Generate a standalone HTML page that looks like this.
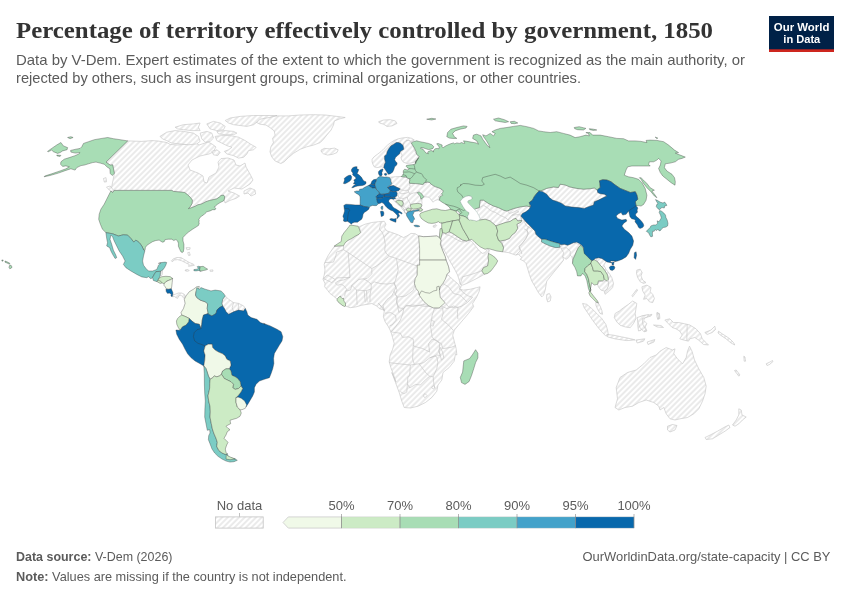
<!DOCTYPE html>
<html lang="en"><head><meta charset="utf-8"><title>Percentage of territory effectively controlled by government, 1850</title>
<style>
html,body{margin:0;padding:0;background:#fff;}
body{width:850px;height:600px;position:relative;overflow:hidden;font-family:"Liberation Sans",sans-serif;}
svg{position:absolute;left:0;top:0;}
.title{font-family:"Liberation Serif",serif;font-weight:bold;font-size:23.2px;fill:#333;}
.sub{font-size:14.6px;fill:#5b5b5b;}
.foot{font-size:13px;fill:#5b5b5b;}
.leg{font-size:13px;fill:#5b5b5b;}
.logo{font-size:11.6px;font-weight:bold;fill:#fff;text-anchor:middle;}
</style></head><body>
<svg width="850" height="600" viewBox="0 0 850 600">
<defs>
<pattern id="hatch" patternUnits="userSpaceOnUse" width="4" height="4" patternTransform="rotate(-45 2 2)">
<rect x="-1" y="-1" width="6" height="6" fill="#fff"/>
<path d="M -1,2 l 6,0" stroke="#ccc" stroke-width="0.8" fill="none"/>
</pattern>
</defs>
<rect width="850" height="600" fill="#fff"/>
<text class="title" x="16" y="38" textLength="697" lengthAdjust="spacingAndGlyphs">Percentage of territory effectively controlled by government, 1850</text>
<text class="sub" x="16" y="65" textLength="729" lengthAdjust="spacingAndGlyphs">Data by V-Dem. Expert estimates of the extent to which the government is recognized as the main authority, or</text>
<text class="sub" x="16" y="83" textLength="565" lengthAdjust="spacingAndGlyphs">rejected by others, such as insurgent groups, criminal organizations, or other countries.</text>
<g>
<rect x="769" y="16" width="65" height="36" fill="#002147"/>
<rect x="769" y="49.3" width="65" height="2.7" fill="#ce261e"/>
<text class="logo" x="801.6" y="30.7" textLength="55.6" lengthAdjust="spacingAndGlyphs">Our World</text>
<text class="logo" x="801.8" y="42.8" textLength="37" lengthAdjust="spacingAndGlyphs">in Data</text>
</g>
<g id="map">
<g fill="url(#hatch)" stroke="#c3c3c3" stroke-width="0.6" stroke-linejoin="round"><path d="M160.5,271.3 L162.6,270.0 L162.1,275.1 L160.5,275.9Z"/><path d="M172.6,294.7 L175.1,294.3 L178.4,293.0 L181.8,293.0 L184.3,294.3 L185.1,295.9 L183.9,298.4 L182.6,296.8 L180.9,295.1 L178.8,295.9 L177.6,298.4 L175.9,297.6 L174.3,296.4 L173.0,296.8Z"/><path d="M171.3,260.8 L173.4,258.8 L176.8,257.5 L180.9,257.5 L185.1,260.0 L189.3,262.5 L193.5,264.2 L194.3,265.4 L191.0,265.9 L188.5,266.3 L189.3,264.6 L185.9,262.9 L181.8,260.8 L177.6,259.6 L174.3,260.0 L172.2,261.7Z"/><path d="M185.1,270.0 L187.6,269.6 L189.3,270.5 L187.6,271.3 L185.5,271.0Z"/><path d="M209.9,270.2 L212.8,269.9 L213.0,271.2 L210.3,271.4Z"/><path d="M186.1,247.7 L190.2,247.7 L189.9,249.3 L186.9,249.8ZM187.7,252.7 L189.4,252.2 L190.2,255.2 L188.6,255.5Z"/><path d="M127.7,140.9 L142.0,141.4 L152.0,140.6 L158.0,141.0 L167.0,142.6 L170.0,144.4 L178.0,145.0 L188.0,144.0 L196.0,143.0 L199.0,145.0 L208.0,142.0 L212.0,144.0 L216.0,147.0 L213.0,152.0 L209.0,154.0 L200.0,156.0 L192.0,160.0 L188.0,165.0 L190.0,170.0 L198.0,173.0 L203.0,176.0 L204.0,182.0 L207.0,183.0 L209.0,177.0 L216.0,173.0 L219.0,167.0 L218.0,162.0 L221.0,158.6 L228.0,158.0 L234.0,160.0 L236.0,165.0 L240.0,166.0 L245.0,163.0 L246.0,167.0 L250.0,174.0 L253.0,180.0 L250.0,184.0 L242.0,189.0 L234.0,188.0 L228.0,191.0 L234.0,193.0 L239.6,196.0 L236.0,198.4 L230.0,200.4 L225.0,203.0 L224.3,200.1 L224.7,196.7 L223.5,195.1 L221.0,195.5 L219.3,197.1 L216.8,198.8 L213.4,199.6 L209.3,200.5 L205.9,201.7 L203.4,203.0 L200.9,204.2 L198.0,204.7 L195.1,206.3 L191.7,207.6 L188.4,208.7 L190.5,206.3 L192.1,203.4 L192.4,200.1 L190.5,197.6 L187.5,194.6 L184.6,192.5 L181.7,192.1 L180.2,192.0 L173.5,191.4 L171.9,190.4 L114.2,190.4 L112.6,192.5 L110.9,190.9 L114.4,173.4 L113.5,168.8 L112.7,164.8 L110.2,165.1 L106.0,162.1Z"/><path d="M106.5,187.1 L110.2,186.0 L113.5,190.2 L112.7,192.7 L109.4,190.2ZM103.5,178.5 L106.0,177.6 L106.5,181.8 L104.3,182.1Z"/><path d="M244.0,191.0 L250.0,188.0 L255.0,190.0 L255.6,194.0 L251.0,196.0 L248.0,193.0 L244.0,194.0Z"/><path d="M160.0,136.4 L166.7,132.2 L175.1,130.6 L183.4,131.4 L193.4,133.1 L198.4,136.4 L200.1,141.4 L196.8,143.9 L188.4,144.8 L180.1,143.9 L171.7,143.1 L166.7,140.6 L162.5,138.9ZM175.1,127.2 L183.4,124.7 L193.4,123.9 L200.1,123.0 L198.4,127.2 L200.1,130.6 L191.8,130.6 L183.4,129.7 L177.6,128.9ZM200.1,133.1 L206.8,131.4 L211.8,133.1 L213.5,138.1 L210.1,141.4 L205.1,142.2 L201.8,138.9ZM206.8,123.9 L213.5,121.4 L220.2,123.0 L225.2,126.4 L223.5,129.7 L216.8,130.6 L210.1,128.9ZM216.8,131.4 L225.2,130.6 L233.5,131.4 L236.9,133.1 L233.5,134.7 L225.2,134.7 L218.5,133.9ZM225.2,120.5 L230.2,118.0 L240.2,116.4 L253.6,115.5 L266.9,115.5 L277.0,115.5 L270.3,118.0 L263.6,121.4 L256.9,122.2 L253.6,124.7 L246.9,126.4 L240.2,125.5 L233.5,124.7 L228.5,123.0ZM215.2,136.4 L221.8,135.6 L230.2,135.6 L238.5,137.2 L245.2,140.6 L250.2,143.9 L256.1,147.3 L253.6,149.8 L248.6,150.6 L246.9,153.9 L243.6,157.3 L238.5,158.1 L233.5,155.6 L226.8,153.9 L224.3,151.4 L228.5,149.8 L231.9,147.3 L226.8,145.6 L221.8,143.1 L216.8,140.6ZM211.8,151.4 L216.8,149.8 L220.2,152.3 L217.7,155.6 L213.5,154.8Z"/><path d="M269.2,117.5 L276.7,115.9 L288.4,115.9 L300.1,115.0 L313.5,114.7 L325.2,115.0 L336.9,116.4 L345.2,117.5 L340.2,118.7 L334.4,120.9 L333.5,125.0 L331.0,130.1 L326.8,135.1 L323.5,139.2 L320.2,142.6 L313.5,145.1 L306.8,146.8 L300.1,149.3 L293.4,153.4 L288.4,157.6 L284.2,161.8 L280.9,163.5 L275.1,161.0 L271.7,156.8 L270.0,151.8 L270.9,146.8 L273.4,142.6 L272.6,138.4 L275.1,135.1 L274.2,130.9 L270.0,127.6 L265.9,125.0 L260.0,124.2 L256.7,122.5 L260.0,119.2Z"/><path d="M321.0,150.1 L324.3,148.4 L329.4,148.8 L334.4,148.1 L338.2,149.8 L336.9,152.6 L332.7,154.3 L327.7,155.1 L323.5,153.8 L321.5,152.1Z"/><path d="M378.6,121.7 L383.6,120.0 L390.3,119.7 L395.3,120.9 L397.0,123.4 L392.0,125.9 L387.0,126.4 L383.6,124.2 L379.5,123.0Z"/><path d="M225.2,295.9 L228.6,299.3 L233.6,302.6 L238.6,303.4 L243.6,305.9 L245.3,308.4 L243.6,311.0 L238.6,310.1 L233.6,311.8 L228.6,314.3 L226.1,311.8 L224.4,308.4 L222.7,305.9 L221.9,303.4 L222.7,299.3Z"/><path d="M372.1,159.2 L374.2,156.7 L377.5,154.2 L380.9,151.7 L384.2,148.4 L387.6,145.0 L390.9,142.5 L394.2,140.4 L398.4,138.8 L402.6,137.9 L407.6,137.4 L411.8,138.4 L414.3,140.0 L411.8,141.7 L410.5,141.3 L408.4,140.4 L405.9,140.9 L404.3,142.5 L403.0,145.5 L400.9,143.4 L398.4,142.5 L396.3,142.5 L393.8,144.2 L390.9,145.9 L388.8,148.8 L387.1,151.7 L386.7,154.2 L384.6,155.9 L384.6,159.2 L385.5,162.2 L384.2,165.1 L383.8,167.6 L381.7,166.8 L379.2,167.2 L376.7,167.6 L374.2,166.8 L372.9,164.3 L372.1,161.7Z"/><path d="M403.0,145.5 L404.3,142.5 L405.9,140.9 L408.4,140.4 L410.5,141.3 L411.4,143.4 L413.0,145.9 L414.3,149.2 L415.1,151.7 L416.8,154.2 L418.5,156.7 L418.9,158.4 L416.8,160.1 L414.3,162.2 L410.9,163.0 L406.8,163.4 L403.4,162.2 L401.8,160.1 L400.9,157.6 L402.2,155.1 L400.9,153.0 L400.1,151.7 L401.8,150.5 L403.8,149.2Z"/><path d="M389.3,177.4 L395.5,176.7 L401.1,176.5 L403.2,176.9 L405.8,177.1 L406.7,177.4 L407.9,178.3 L409.4,178.7 L409.9,180.1 L409.4,181.5 L409.6,183.3 L412.0,183.4 L415.5,183.6 L419.1,183.9 L422.6,184.5 L423.8,183.9 L424.1,182.7 L425.8,182.4 L427.3,182.1 L429.6,182.4 L430.8,183.9 L433.2,185.6 L435.5,186.8 L438.5,187.7 L441.8,189.4 L443.2,190.9 L443.8,193.0 L442.1,193.4 L440.4,194.7 L440.0,195.9 L438.3,196.8 L440.0,197.6 L439.2,200.1 L437.5,199.7 L435.0,200.5 L432.9,202.2 L431.7,200.5 L430.4,198.8 L428.8,197.2 L425.8,196.8 L423.3,197.2 L422.5,198.8 L421.7,200.9 L422.1,203.0 L421.8,203.8 L421.8,205.4 L420.9,207.5 L422.6,209.6 L421.8,210.9 L419.7,211.3 L418.8,210.9 L418.4,209.6 L416.7,210.0 L413.4,210.5 L410.1,211.3 L407.6,212.1 L406.3,213.8 L404.6,213.0 L404.2,210.0 L403.0,207.5 L400.0,205.9 L396.7,203.4 L394.2,200.8 L392.5,198.3 L395.6,198.4 L394.7,197.2 L396.8,195.9 L397.2,193.0 L396.0,191.3 L398.9,190.5 L400.2,188.8 L396.8,187.2 L393.5,185.5 L390.1,186.1 L388.5,186.3 L390.6,185.1 L391.8,183.8 L391.0,181.7 L390.6,179.2Z"/><path d="M540.9,190.9 L546.7,188.4 L553.4,187.0 L558.4,187.5 L560.1,184.2 L565.1,185.0 L570.1,187.0 L576.8,188.4 L583.5,189.2 L590.2,188.7 L594.3,188.0 L597.2,190.0 L597.7,192.5 L600.2,193.7 L604.4,194.2 L606.9,195.9 L603.5,197.6 L598.5,200.1 L594.3,201.7 L593.5,205.1 L588.5,206.7 L584.3,208.4 L578.5,207.6 L571.8,207.1 L565.1,205.9 L561.8,203.4 L557.6,201.7 L552.6,200.1 L549.2,197.6 L546.7,194.2 L542.6,191.7Z"/><path d="M595.9,259.2 L599.3,257.5 L603.4,259.2 L605.9,261.7 L603.8,265.1 L605.9,269.2 L609.3,273.4 L611.8,277.6 L613.5,283.4 L612.6,287.6 L609.3,291.0 L605.1,294.3 L604.3,291.8 L606.8,289.3 L608.4,285.1 L608.4,279.3 L607.6,275.1 L605.1,270.9 L602.6,267.6 L600.1,265.1 L597.6,261.7Z"/><path d="M598.4,281.8 L602.6,280.9 L606.8,280.9 L608.4,282.6 L608.4,285.9 L606.8,289.3 L604.3,291.0 L600.9,290.1 L598.4,286.8 L597.6,284.3Z"/><path d="M598.4,303.1 L600.1,306.0 L601.8,310.2 L602.6,314.3 L600.1,313.5 L597.6,309.3 L595.9,305.2 L595.9,302.1Z"/><path d="M582.6,303.5 L586.7,304.3 L591.7,308.5 L596.8,313.5 L601.8,318.5 L605.9,324.4 L607.6,330.2 L608.4,335.2 L605.9,336.1 L601.8,331.9 L597.6,326.9 L592.6,320.2 L587.6,312.7 L584.2,307.7Z"/><path d="M615.1,313.5 L619.3,311.0 L623.5,307.7 L628.5,304.3 L632.7,301.0 L636.8,303.5 L636.0,308.5 L635.2,313.5 L636.0,318.5 L633.5,323.5 L630.2,327.7 L625.2,326.9 L620.1,325.2 L616.8,321.9 L614.3,317.7Z"/><path d="M606.8,334.4 L613.5,335.2 L621.8,336.9 L630.2,338.6 L635.2,339.9 L626.8,340.6 L615.1,338.9 L607.6,336.9Z"/><path d="M638.5,318.5 L641.9,316.0 L648.5,315.2 L651.9,314.3 L651.0,316.0 L645.2,317.7 L643.5,320.2 L646.9,323.5 L645.2,326.9 L646.9,331.0 L644.4,331.9 L642.7,326.9 L641.0,330.2 L638.5,331.0 L637.7,325.2Z"/><path d="M636.8,270.1 L640.2,269.2 L642.2,272.6 L641.0,275.9 L642.7,280.1 L646.0,282.6 L643.5,283.4 L640.2,281.8 L637.7,277.6 L636.5,273.4ZM641.9,286.8 L646.9,285.1 L651.0,287.6 L650.2,291.8 L652.7,294.3 L654.4,298.5 L652.7,302.6 L649.4,301.8 L646.9,298.5 L643.5,299.3 L645.2,295.1 L642.7,291.0ZM631.8,296.0 L634.3,292.6 L636.8,289.3 L637.7,290.1 L635.2,293.5 L632.7,296.8ZM656.9,312.7 L659.4,313.5 L659.9,318.5 L657.7,319.4Z"/><path d="M664.8,320.0 L669.8,318.8 L673.5,322.5 L678.5,322.5 L684.8,323.8 L689.8,325.0 L696.0,328.8 L700.5,333.8 L702.2,338.8 L706.0,342.5 L708.5,345.0 L703.5,344.5 L698.5,340.0 L694.8,337.5 L689.8,338.8 L688.5,341.2 L683.5,340.0 L679.8,338.8 L682.2,335.0 L679.8,331.2 L676.0,328.8 L672.2,327.5 L668.5,323.8ZM704.8,332.5 L711.0,330.0 L714.8,326.2 L715.5,329.5 L712.2,332.5 L707.2,334.5ZM718.5,331.2 L722.2,333.8 L726.0,336.2 L729.8,338.8 L733.5,342.5 L734.8,345.0 L731.0,343.0 L726.0,338.8 L721.0,335.5 L718.0,333.0ZM637.2,317.5 L643.5,315.5 L648.5,314.5 L647.2,317.0 L642.2,318.8 L643.0,325.0 L646.0,330.0 L643.5,331.2 L639.8,327.5 L638.0,322.5ZM657.2,312.5 L659.0,313.8 L658.5,318.8 L657.0,317.5ZM653.5,325.0 L661.0,325.5 L663.5,327.5 L657.2,327.0ZM636.0,340.0 L644.8,338.8 L643.5,341.2 L637.2,343.0ZM647.2,342.0 L654.8,339.5 L654.0,342.0 L648.0,344.5Z"/><path d="M615.0,407.5 L617.5,398.8 L616.2,387.5 L620.0,377.5 L627.5,372.5 L636.2,370.0 L643.8,363.8 L650.0,357.5 L656.2,355.0 L660.0,351.2 L666.2,347.5 L672.5,350.0 L675.0,348.8 L673.8,353.8 L677.5,358.8 L682.5,363.8 L686.2,357.5 L687.5,351.2 L689.5,346.2 L692.0,351.2 L694.5,360.0 L698.8,368.8 L703.8,377.5 L706.2,386.2 L705.0,393.8 L702.5,401.2 L698.8,408.8 L693.8,413.8 L687.5,417.5 L680.0,418.8 L675.0,420.0 L670.0,418.8 L666.2,413.8 L663.8,407.5 L660.0,410.0 L658.8,406.2 L653.8,402.5 L646.2,400.0 L638.8,402.5 L632.5,406.2 L625.0,407.5 L618.8,410.0ZM667.5,426.2 L672.5,424.5 L677.0,425.5 L675.0,430.0 L670.0,432.0 L667.5,430.0Z"/><path d="M738.8,408.8 L741.2,410.0 L742.0,415.0 L746.2,417.0 L742.5,420.0 L738.8,423.8 L735.0,426.2 L732.5,425.0 L736.2,420.0 L738.8,415.0ZM728.8,425.0 L730.0,427.5 L725.0,431.2 L718.8,435.0 L712.5,438.8 L706.2,439.5 L705.0,437.5 L711.2,434.5 L717.5,431.2 L723.8,427.5ZM734.5,370.5 L736.2,370.0 L740.0,375.0 L738.8,376.2ZM743.8,356.2 L745.0,357.0 L745.5,361.2 L744.2,361.2ZM766.2,363.8 L770.0,362.0 L772.5,360.5 L773.0,361.5 L769.5,364.5 L767.0,365.5Z"/><path d="M440.9,235.8 L440.4,232.5 L439.2,241.0 L440.4,240.1 L441.7,235.1 L442.5,232.6 L445.9,233.4 L449.2,231.8 L452.6,233.4 L457.6,236.8 L462.6,240.1 L466.8,241.0 L469.3,240.1 L470.1,240.0 L472.6,242.5 L476.0,246.7 L479.3,250.9 L482.6,253.4 L485.1,252.6 L487.6,249.2 L489.3,250.0 L488.5,253.4 L488.1,256.7 L488.5,260.9 L487.6,265.9 L483.5,267.6 L481.8,270.9 L484.3,274.3 L478.5,277.6 L471.8,281.0 L466.8,283.5 L462.6,285.1 L460.1,284.3 L459.2,280.1 L457.6,275.1 L455.1,270.1 L451.7,264.2 L448.4,258.4 L445.0,251.7 L441.7,245.9 L440.0,240.0Z"/><path d="M471.5,211.1 L476.0,208.6 L479.3,207.7 L480.2,200.2 L483.5,200.2 L488.5,203.5 L493.5,206.0 L498.5,207.7 L503.6,210.2 L506.9,211.1 L513.6,208.6 L520.3,206.9 L526.9,206.0 L530.3,206.9 L529.2,202.6 L530.9,205.9 L529.2,209.2 L525.8,211.8 L522.5,213.4 L520.8,215.9 L521.9,220.4 L517.7,220.9 L516.0,218.4 L513.5,219.2 L510.2,221.4 L505.2,222.6 L500.2,224.3 L496.0,225.9 L490.1,220.9 L485.1,219.2 L479.3,220.1 L478.8,220.3 L480.0,218.5 L478.8,215.6 L477.1,212.6 L475.3,210.3 L473.5,208.5Z"/><path d="M502.6,251.8 L508.4,252.6 L513.4,254.3 L515.9,255.1 L518.4,254.3 L521.8,257.6 L520.1,259.3 L523.5,260.9 L526.0,263.4 L527.6,268.5 L529.3,274.3 L531.8,281.0 L535.2,286.8 L538.5,292.7 L541.8,296.9 L543.5,295.2 L545.2,290.2 L546.0,285.2 L546.8,281.0 L550.2,276.8 L553.5,272.6 L556.9,268.5 L561.0,263.4 L563.6,260.1 L562.7,256.8 L566.1,259.3 L568.6,257.6 L570.2,255.1 L571.9,256.8 L572.7,260.1 L572.5,263.4 L573.0,259.2 L575.0,255.0 L576.7,250.9 L578.4,247.5 L580.9,245.0 L573.5,242.7 L570.1,244.3 L567.6,245.2 L564.3,244.3 L560.9,244.8 L559.3,243.5 L560.1,247.2 L555.9,247.7 L550.1,246.0 L545.1,243.8 L541.4,241.8 L541.7,239.3 L538.4,236.8 L535.9,234.3 L535.0,231.0 L532.5,228.5 L529.2,225.1 L525.8,221.8 L523.3,218.8 L520.8,215.9 L521.9,220.4 L521.0,222.1 L516.9,224.3 L517.7,228.4 L515.2,232.6 L511.9,235.1 L509.4,238.5 L505.2,240.1 L500.2,241.0 L498.5,240.1 L501.8,243.5 L503.5,247.6 L502.7,251.8ZM546.8,294.4 L549.4,293.5 L551.0,296.9 L550.2,301.0 L547.7,301.9 L546.5,298.5Z"/><path d="M334.2,246.4 L331.7,250.1 L328.4,255.1 L325.8,260.1 L324.2,264.3 L325.0,270.1 L324.2,275.1 L323.0,279.3 L325.0,283.5 L324.7,286.8 L327.5,290.2 L330.0,293.5 L333.4,296.0 L337.5,299.4 L339.2,302.7 L342.6,305.2 L345.4,306.0 L350.1,307.7 L355.9,306.9 L361.8,305.2 L366.8,304.4 L371.8,303.5 L376.8,306.0 L379.3,308.6 L384.3,310.2 L378.4,303.3 L382.6,307.5 L384.2,311.7 L383.4,316.7 L385.1,321.7 L388.4,326.7 L390.9,331.7 L392.6,337.6 L394.2,343.4 L392.6,349.3 L390.1,355.1 L389.2,361.8 L390.9,367.7 L393.4,374.3 L395.9,381.9 L391.8,372.5 L395.5,382.5 L399.2,392.5 L401.8,401.2 L404.2,407.5 L410.5,408.0 L418.0,406.2 L425.5,402.5 L431.8,397.5 L436.8,391.2 L438.0,385.0 L441.8,380.0 L443.0,372.5 L449.2,367.5 L454.2,361.2 L455.5,353.8 L456.9,355.1 L456.1,348.4 L454.4,341.8 L452.7,335.1 L454.4,330.1 L458.6,325.1 L463.6,319.2 L468.6,313.4 L473.6,306.7 L472.6,303.5 L476.8,296.8 L479.3,291.0 L480.1,286.8 L476.8,287.6 L470.1,289.3 L463.4,290.1 L459.2,289.3 L460.1,286.8 L457.6,283.5 L453.4,280.1 L450.1,276.8 L447.0,274.3 L449.5,271.8 L448.6,266.8 L446.1,260.1 L445.3,256.8 L442.8,250.9 L440.3,244.2 L441.1,240.1 L439.4,237.6 L436.9,235.9 L430.3,236.4 L423.6,236.7 L418.6,235.9 L415.2,233.7 L411.0,233.4 L406.9,235.9 L403.5,237.6 L398.5,235.0 L391.8,232.5 L386.8,230.9 L384.3,227.5 L386.0,224.2 L384.3,221.3 L378.5,221.7 L371.8,222.5 L365.1,224.2 L359.3,226.7 L360.1,230.0 L359.3,233.4 L355.1,235.9 L350.9,238.4 L346.7,240.9 L343.4,243.4 L339.2,245.9Z"/><path d="M425.0,393.5 L427.1,395.6 L425.0,397.7 L422.9,395.6ZM433.2,385.6 L435.0,387.4 L433.2,389.1 L431.6,387.4Z"/><path d="M433.0,225.9 L436.0,224.7 L436.8,225.5 L435.1,227.2 L433.5,227.2Z"/></g><g fill="none" stroke="#c3c3c3" stroke-width="0.6" stroke-linejoin="round"><path d="M233.6,302.6 L232.2,307.6 L233.6,311.8"/><path d="M238.6,303.4 L238.3,307.6 L238.6,310.1"/><path d="M687.2,324.5 L686.8,340.5"/><path d="M460.1,284.3 L462.6,276.8 L471.8,274.3 L481.8,270.9"/><path d="M445.0,234.2 L450.1,235.8 L455.9,239.2 L460.9,241.7 L466.8,241.7"/><path d="M515.9,255.1 L520.1,250.9 L519.3,246.7 L522.6,242.6 L526.0,238.4 L528.5,233.4 L526.8,230.0 L528.5,226.7"/><path d="M562.7,256.8 L563.6,252.6 L561.0,248.4 L566.1,247.6 L570.2,250.9 L570.2,255.1"/><path d="M343.5,245.8 L343.5,249.7 L336.5,252.1 L335.9,255.6 L333.5,262.1 L324.7,262.6"/><path d="M343.5,249.7 L348.2,252.6 L350.0,277.4 L336.5,277.9 L335.3,279.7 L331.8,277.4 L327.1,275.0 L323.5,278.5"/><path d="M348.2,252.6 L371.8,268.5 L377.1,265.6 L389.4,256.2"/><path d="M381.2,222.1 L379.4,229.1 L382.4,232.6 L384.1,237.4"/><path d="M389.4,232.1 L386.5,234.4 L384.1,237.4"/><path d="M384.1,237.4 L385.3,244.4 L384.7,250.3 L386.5,253.8 L389.4,256.2"/><path d="M389.4,256.2 L396.5,258.5 L417.6,266.2 L418.8,266.2"/><path d="M396.5,258.5 L398.2,270.3 L395.3,280.9 L394.1,283.2"/><path d="M371.8,268.5 L371.8,273.8 L367.1,278.5 L363.5,279.1"/><path d="M323.5,278.5 L327.1,280.3 L331.8,282.6 L335.3,279.7"/><path d="M363.5,278.8 L358.8,279.4 L355.3,282.4 L351.8,285.3 L350.6,290.0 L345.3,291.2 L344.7,296.5"/><path d="M363.5,278.8 L367.6,281.2 L371.2,284.1 L374.1,281.8 L380.0,283.5 L387.1,284.1 L394.1,282.9"/><path d="M371.2,284.1 L371.2,288.8 L370.0,294.7 L370.0,301.8"/><path d="M351.8,285.3 L356.5,290.0 L364.1,290.6 L366.5,290.6 L371.2,288.8"/><path d="M366.5,290.6 L367.1,301.8"/><path d="M364.1,290.6 L365.3,302.4"/><path d="M356.5,290.0 L357.1,304.7"/><path d="M394.1,282.9 L395.9,287.6 L391.8,295.9 L387.1,299.4 L382.9,305.3 L384.7,311.2"/><path d="M394.1,282.9 L397.1,290.0 L395.3,294.7 L397.6,297.1 L405.9,295.9 L412.9,290.6 L415.3,285.3"/><path d="M415.3,285.3 L414.1,281.8 L417.1,277.6 L417.6,265.9"/><path d="M397.6,297.1 L396.5,301.8 L398.2,308.8 L398.8,312.4"/><path d="M398.8,312.4 L403.5,308.8 L405.9,305.3 L412.9,306.5 L420.0,305.3 L424.7,306.5 L430.6,306.5"/><path d="M337.6,285.3 L341.2,284.1 L344.7,286.5 L347.1,290.0 L345.3,291.2"/><path d="M337.6,285.3 L335.3,282.9 L338.8,280.8 L343.5,280.0 L350.0,277.3"/><path d="M441.1,306.0 L447.0,308.6 L453.6,306.0 L458.7,307.7"/><path d="M442.8,283.5 L448.6,286.8 L453.6,293.5 L460.3,295.2 L467.0,301.9"/><path d="M445.0,302.6 L448.5,306.8 L455.6,307.9 L461.5,306.2 L467.4,302.6 L472.6,297.4 L467.4,295.6 L462.6,292.1 L460.3,288.5 L461.5,285.0"/><path d="M457.9,307.9 L457.4,314.4 L457.9,319.1"/><path d="M433.2,307.9 L434.4,308.5 L442.6,307.9 L443.2,313.2 L441.5,319.1 L442.6,320.3 L448.5,325.0 L453.2,330.3"/><path d="M434.4,308.5 L432.1,315.6 L431.5,320.3 L430.3,325.0 L431.5,332.1 L432.1,336.8 L434.4,339.7 L439.7,342.6 L441.5,343.8 L442.6,348.5 L443.8,348.5 L450.9,347.4 L455.6,345.6"/><path d="M393.8,290.9 L396.8,296.8 L396.8,302.6 L399.1,307.9 L403.8,308.5 L406.2,306.2 L412.1,305.0 L417.9,305.6 L422.6,304.4 L428.5,305.6"/><path d="M403.8,308.5 L402.6,314.4 L400.3,320.3 L397.9,323.8 L392.1,330.9 L390.3,332.1"/><path d="M385.0,313.2 L390.9,312.6 L395.6,315.6 L396.2,320.3 L392.1,325.0 L389.7,325.6"/><path d="M392.1,332.1 L400.3,333.2 L402.6,337.4 L408.5,336.8 L413.2,339.1 L413.8,346.2 L422.6,348.5 L429.7,352.1"/><path d="M429.7,352.1 L428.5,343.8 L432.1,339.1 L436.8,340.3 L439.7,343.8 L439.1,350.9 L440.3,355.0"/><path d="M431.5,320.3 L434.4,321.5 L433.2,326.2 L431.5,325.6"/><path d="M389.1,362.6 L399.1,363.8 L410.3,365.0 L414.4,364.4 L419.1,363.8"/><path d="M410.3,365.0 L409.7,375.6 L407.9,376.8 L407.4,383.8 L406.8,392.1 L403.8,393.8 L400.3,391.5"/><path d="M407.4,383.8 L409.7,387.9 L415.6,384.4 L420.3,385.0 L426.2,379.1 L429.7,376.2 L433.2,376.8"/><path d="M419.1,363.8 L422.6,368.5 L426.2,373.2 L429.7,376.2"/><path d="M419.1,363.8 L423.8,362.6 L429.7,357.9 L434.4,356.2 L436.8,356.8 L437.9,362.6 L436.8,368.5 L433.2,376.8 L433.8,383.8 L435.0,388.5"/><path d="M413.2,345.0 L412.6,359.1 L414.4,364.4"/><path d="M429.7,357.9 L436.8,355.0 L440.3,355.6"/><path d="M440.3,347.4 L442.6,352.1 L443.8,357.9 L441.5,360.3 L440.3,355.6 L438.5,350.9 L440.3,347.4"/><path d="M479.4,207.6 L483.5,205.3 L487.1,207.6 L490.6,210.6 L495.3,212.4 L500.0,215.3 L505.3,217.6 L508.2,220.0"/><path d="M508.2,211.2 L509.4,213.5 L512.9,212.4 L516.5,210.6 L518.8,211.8 L515.3,213.5 L511.8,215.3 L509.4,218.2 L508.2,220.0"/><path d="M511.8,215.3 L516.5,214.7 L520.6,214.7"/><path d="M524.1,228.8 L527.1,230.6 L527.6,234.7 L525.3,239.4 L522.4,243.5 L518.8,246.5 L521.2,251.2 L521.8,254.1"/><path d="M524.1,220.6 L525.9,225.3 L529.4,227.6 L531.8,228.8"/><path d="M501.2,241.2 L503.5,246.5 L501.8,251.2"/><path d="M409.6,183.4 L410.1,186.7 L408.8,188.0 L409.6,189.2 L408.0,190.1 L404.2,190.5 L400.0,189.6"/><path d="M408.0,190.1 L408.8,192.1 L405.5,193.4 L400.9,193.8 L399.2,191.7"/><path d="M408.8,192.1 L410.1,194.2 L407.5,197.2 L403.4,198.4 L399.2,198.0 L397.9,195.1"/><path d="M410.1,194.2 L413.4,193.0 L417.2,192.6"/><path d="M407.5,197.2 L407.5,199.2 L409.2,201.7 L410.5,204.3"/><path d="M403.4,198.4 L402.5,200.9 L400.0,200.1 L397.5,198.8 L395.0,199.2"/><path d="M402.5,200.9 L403.8,203.0 L403.4,205.9 L406.3,208.8"/><path d="M398.4,204.7 L400.9,206.8 L403.4,205.9"/><path d="M400.9,206.8 L402.5,209.3 L404.6,211.8 L406.7,213.4"/><path d="M406.3,209.3 L404.2,209.7 L404.6,211.8"/></g><g stroke="#333" stroke-opacity="0.55" stroke-width="0.65" stroke-linejoin="round"><path fill="#a8ddb5" d="M81.8,146.7 L83.5,143.4 L88.5,141.7 L94.3,139.7 L101.8,138.4 L107.7,137.5 L113.5,138.7 L120.2,139.7 L127.7,140.9 L106.0,162.1 L110.2,165.1 L112.7,164.8 L113.5,168.8 L114.4,173.4 L112.2,175.5 L110.2,173.4 L109.9,168.8 L107.2,167.1 L104.3,164.3 L100.2,163.1 L96.0,162.1 L92.6,162.6 L88.5,163.8 L84.3,165.1 L81.0,165.6 L76.8,167.6 L75.1,170.1 L70.9,168.8 L65.9,170.4 L58.4,173.1 L50.0,175.5 L44.2,176.8 L44.7,176.0 L51.7,173.8 L60.1,170.9 L65.9,168.8 L69.3,166.8 L65.9,165.9 L62.6,166.4 L60.6,164.3 L60.9,161.8 L64.2,159.2 L69.3,157.6 L74.3,155.9 L78.4,154.2 L80.1,152.6 L75.1,153.1 L70.9,152.1 L70.6,150.4 L75.9,149.2 L80.1,148.4ZM47.5,151.4 L51.7,148.4 L56.7,145.0 L60.9,142.5 L63.4,145.9 L67.6,147.6 L67.1,149.7 L62.6,150.9 L60.1,152.6 L57.6,153.4 L53.4,151.7 L51.7,150.1 L48.4,151.7ZM67.6,137.5 L70.9,136.7 L73.1,137.5 L70.1,138.7ZM56.7,155.1 L60.9,155.4 L60.1,156.4 L57.1,155.9ZM110.9,190.9 L112.6,192.5 L114.2,190.4 L171.9,190.4 L173.5,191.4 L180.2,192.0 L181.7,192.1 L184.6,192.5 L187.5,194.6 L190.5,197.6 L192.4,200.1 L192.1,203.4 L190.5,206.3 L188.4,208.7 L191.7,207.6 L195.1,206.3 L198.0,204.7 L200.9,204.2 L203.4,203.0 L205.9,201.7 L209.3,200.5 L213.4,199.6 L216.8,198.8 L219.3,197.1 L221.0,195.5 L223.5,195.1 L224.7,196.7 L224.3,199.2 L223.5,200.9 L220.1,202.6 L217.6,204.2 L215.5,205.9 L214.3,207.2 L215.9,208.4 L215.1,209.7 L212.6,209.7 L210.1,210.9 L206.8,211.8 L205.1,213.4 L203.4,215.1 L201.7,215.9 L200.1,217.6 L198.8,219.3 L199.2,220.5 L198.8,222.6 L199.3,222.9 L198.5,225.4 L196.0,227.1 L192.6,229.2 L188.5,232.1 L185.1,235.1 L183.0,237.6 L183.0,240.9 L183.9,244.2 L183.9,248.4 L183.3,251.8 L182.2,252.6 L180.9,251.8 L179.7,249.3 L178.4,246.3 L178.4,243.4 L177.6,240.9 L175.9,239.6 L173.8,240.5 L171.8,239.2 L168.4,239.2 L165.1,239.6 L164.2,241.7 L162.6,242.2 L160.9,241.3 L159.2,240.1 L155.9,240.5 L152.5,241.7 L149.2,243.8 L146.7,245.5 L145.4,247.6 L145.0,250.5 L143.8,250.2 L141.8,246.0 L139.3,242.6 L135.9,240.1 L133.8,242.1 L130.9,238.5 L127.6,235.1 L123.4,234.8 L118.4,236.0 L112.6,233.8 L105.9,232.6 L102.5,229.3 L100.4,224.3 L98.7,219.3 L99.2,214.2 L100.9,209.2 L104.2,204.2 L106.7,199.2 L109.2,194.2ZM1.8,260.0 L3.2,260.0 L3.0,261.0 L2.0,261.2ZM5.0,261.0 L7.0,261.8 L9.8,263.2 L9.5,264.2 L7.0,263.0 L5.0,262.2ZM9.5,265.5 L11.0,265.2 L12.0,267.0 L11.5,268.0 L9.8,268.8 L9.0,267.5Z"/><path fill="#7bccc4" d="M105.9,232.6 L112.6,233.8 L118.4,236.0 L123.4,234.8 L127.6,235.1 L130.9,238.5 L133.8,242.1 L135.9,240.1 L139.3,242.6 L141.8,246.0 L143.8,250.2 L144.8,251.0 L143.5,256.0 L142.6,261.0 L143.5,265.2 L146.0,268.5 L148.5,271.0 L152.6,271.0 L156.8,269.4 L158.5,265.2 L161.0,262.7 L158.4,263.4 L161.7,262.5 L165.1,262.1 L166.7,262.5 L165.9,265.0 L164.6,267.5 L163.4,269.2 L162.6,270.0 L160.5,271.3 L155.9,271.7 L154.6,273.8 L152.5,277.6 L150.9,278.8 L148.4,276.7 L146.8,277.7 L141.8,276.9 L136.8,274.4 L130.9,271.0 L125.9,267.7 L123.4,264.4 L125.1,261.0 L122.6,256.0 L119.2,251.0 L116.7,246.0 L114.2,241.0 L112.6,236.8 L110.9,235.1 L110.0,239.3 L111.7,244.3 L113.4,250.2 L115.9,255.2 L116.7,257.7 L115.1,258.5 L112.6,254.3 L110.9,251.0 L109.7,247.7 L106.7,246.0 L107.5,242.6 L106.7,238.5Z"/><path fill="#7bccc4" d="M152.5,277.6 L154.6,273.8 L155.9,271.7 L160.5,271.3 L160.1,275.9 L159.2,278.0 L158.0,280.1 L157.1,281.7 L153.4,280.5Z"/><path fill="#ccebc5" d="M159.2,278.0 L161.7,276.7 L165.9,276.3 L170.1,276.6 L172.6,278.4 L170.9,279.6 L168.4,280.5 L165.9,281.7 L164.2,283.8 L162.1,283.0 L160.1,283.4 L157.1,281.7 L158.0,280.1Z"/><path fill="#f0f9e8" d="M164.2,283.8 L165.9,281.7 L168.4,280.5 L170.9,279.6 L172.6,278.4 L172.2,282.6 L171.7,286.7 L171.3,288.8 L168.8,289.3 L166.3,288.8 L165.1,286.7 L163.8,285.1Z"/><path fill="#0868ac" d="M165.9,289.3 L168.8,289.3 L171.3,288.8 L172.2,290.9 L173.0,293.0 L172.6,294.7 L172.2,296.8 L170.9,295.9 L171.3,294.3 L169.2,293.0 L167.6,293.4 L166.3,291.8Z"/><path fill="#7bccc4" d="M193.9,269.6 L196.8,269.2 L198.5,268.4 L197.2,266.7 L198.5,266.3 L200.2,266.7 L199.7,269.6 L200.6,271.3 L198.5,270.5 L196.0,270.9 L193.9,270.7Z"/><path fill="#a8ddb5" d="M200.2,266.7 L203.1,266.3 L205.6,267.9 L207.7,269.2 L206.0,270.0 L203.5,270.5 L200.6,271.3 L199.7,269.6Z"/><path fill="#f0f9e8" d="M184.3,299.3 L186.0,295.9 L189.3,291.7 L193.5,289.2 L196.8,286.7 L199.3,286.4 L198.5,289.2 L196.0,291.7 L195.5,295.1 L196.8,297.6 L200.2,300.1 L205.2,301.8 L207.7,303.8 L207.2,308.4 L208.2,313.5 L206.0,314.3 L203.5,315.1 L202.2,320.1 L201.8,324.3 L201.0,328.5 L199.3,324.3 L195.2,323.5 L191.8,321.0 L189.3,318.5 L186.0,316.8 L181.8,315.1 L181.0,312.6 L183.5,308.4 L185.1,303.4Z"/><path fill="#7bccc4" d="M196.8,287.6 L199.3,289.2 L201.0,287.6 L205.2,289.2 L211.0,290.9 L215.2,290.1 L221.0,290.9 L223.6,293.4 L225.2,295.9 L222.7,299.3 L221.9,303.4 L222.7,305.9 L219.4,307.6 L216.9,310.1 L216.0,313.5 L211.9,316.0 L208.5,314.3 L208.2,313.5 L207.2,308.4 L207.7,303.8 L205.2,301.8 L200.2,300.1 L196.8,297.6 L195.5,295.1 L196.0,291.7Z"/><path fill="#ccebc5" d="M177.6,318.5 L180.1,316.0 L181.8,315.1 L186.0,316.8 L189.3,318.5 L188.8,321.8 L186.0,325.2 L182.6,326.8 L180.1,330.2 L178.4,327.7 L176.8,324.3 L176.4,321.0Z"/><path fill="#0868ac" d="M180.1,330.2 L182.6,326.8 L186.0,325.2 L188.8,321.8 L189.3,318.5 L191.8,321.0 L195.2,323.5 L199.3,324.3 L201.0,328.5 L201.8,324.3 L202.2,320.1 L203.5,315.1 L206.0,314.3 L208.2,313.5 L208.5,314.3 L211.9,316.0 L216.0,313.5 L216.9,310.1 L219.4,307.6 L222.7,305.9 L224.4,308.4 L226.1,311.8 L228.6,314.3 L233.6,311.8 L238.6,310.1 L243.6,311.0 L245.3,308.4 L246.9,311.8 L247.8,315.1 L251.1,317.6 L257.0,319.3 L260.3,322.6 L265.3,324.3 L263.6,323.4 L270.3,325.9 L276.9,329.2 L281.1,331.7 L282.8,336.7 L282.0,340.9 L279.4,345.1 L276.9,349.3 L274.4,353.4 L273.6,358.4 L273.9,363.5 L272.8,368.5 L271.1,373.5 L269.4,377.7 L264.4,379.3 L259.4,381.0 L256.1,384.3 L254.4,387.7 L254.4,391.9 L252.7,396.0 L250.2,400.2 L247.7,404.4 L246.0,406.9 L241.9,403.6 L238.5,400.2 L236.0,397.7 L238.5,395.2 L241.0,391.9 L242.7,388.5 L241.0,386.0 L240.2,381.8 L237.7,378.5 L235.2,376.8 L231.8,375.2 L231.0,371.0 L229.3,368.8 L231.0,365.1 L230.2,361.0 L226.8,359.3 L225.2,355.9 L222.6,353.8 L218.5,352.1 L215.1,350.1 L212.6,347.6 L212.1,344.2 L208.4,344.2 L206.8,345.1 L205.1,345.9 L204.8,347.6 L203.8,350.9 L205.1,355.1 L204.8,360.1 L203.8,366.0 L200.1,363.8 L195.1,361.0 L190.9,357.6 L187.6,353.8 L185.1,349.3 L182.6,344.2 L179.2,339.2 L176.7,334.2 L175.9,330.0Z"/><path fill="#f0f9e8" d="M205.1,345.9 L206.8,345.1 L208.4,344.2 L212.1,344.2 L212.6,347.6 L215.1,350.1 L218.5,352.1 L222.6,353.8 L225.2,355.9 L226.8,359.3 L230.2,361.0 L231.0,365.1 L229.3,368.8 L226.0,368.8 L222.6,371.0 L221.5,374.3 L219.3,376.0 L216.8,376.8 L214.3,376.0 L212.6,377.7 L210.1,379.3 L208.4,376.0 L207.1,371.8 L205.9,368.5 L203.8,366.0 L204.8,360.1 L205.1,355.1 L203.8,350.9 L204.8,347.6Z"/><path fill="#a8ddb5" d="M222.6,371.0 L226.0,368.8 L229.3,368.8 L231.0,371.0 L231.8,375.2 L235.2,376.8 L237.7,378.5 L240.2,381.8 L241.0,386.0 L238.5,388.5 L235.2,389.4 L232.7,387.7 L233.5,384.3 L231.0,381.8 L227.7,380.2 L224.3,378.5 L221.5,374.3Z"/><path fill="#7bccc4" d="M203.8,366.0 L205.9,368.5 L207.1,371.8 L208.4,376.0 L210.1,379.3 L209.8,383.5 L209.7,387.7 L209.3,390.3 L208.0,395.7 L208.7,401.0 L210.0,406.3 L210.3,411.7 L210.0,417.0 L211.3,423.7 L212.4,429.0 L214.0,433.7 L216.0,438.3 L217.3,442.3 L216.7,446.3 L218.7,450.3 L222.0,453.0 L225.3,454.3 L227.3,453.7 L228.0,455.7 L230.0,457.7 L232.7,458.1 L235.3,459.0 L237.3,460.3 L234.0,461.7 L230.0,462.1 L226.0,461.0 L222.0,459.0 L218.0,456.3 L214.7,453.0 L212.0,449.0 L210.0,443.7 L208.4,439.7 L208.7,435.7 L210.0,433.0 L209.7,429.7 L207.3,430.3 L206.0,423.7 L204.7,417.0 L204.9,409.0 L205.3,401.0 L204.7,393.0 L204.4,385.0 L204.3,373.5Z"/><path fill="#ccebc5" d="M210.1,379.3 L212.6,377.7 L214.3,376.0 L216.8,376.8 L219.3,376.0 L221.5,374.3 L224.3,378.5 L227.7,380.2 L231.0,381.8 L233.5,384.3 L232.7,387.7 L235.2,389.4 L238.5,388.5 L241.0,386.0 L242.7,388.5 L241.0,391.9 L238.5,395.2 L236.0,397.7 L236.0,402.3 L237.3,407.0 L240.0,409.7 L241.3,413.0 L240.0,416.3 L236.7,418.3 L232.7,419.4 L230.0,420.3 L230.7,423.7 L228.0,425.0 L226.0,426.3 L228.0,428.3 L230.0,429.7 L227.3,431.7 L226.0,435.0 L224.0,438.3 L226.0,440.3 L228.0,442.3 L226.7,445.0 L225.3,449.0 L226.0,452.3 L227.3,453.7 L225.3,454.3 L222.0,453.0 L218.7,450.3 L216.7,446.3 L217.3,442.3 L216.0,438.3 L214.0,433.7 L212.4,429.0 L211.3,423.7 L210.0,417.0 L210.3,411.7 L210.0,406.3 L208.7,401.0 L208.0,395.7 L209.3,390.3 L209.7,387.7 L209.8,383.5 L210.1,379.3ZM226.3,454.6 L228.7,456.3 L232.7,458.1 L235.3,459.0 L230.0,459.7 L226.0,459.1Z"/><path fill="#f0f9e8" d="M236.0,397.7 L238.0,397.0 L241.3,398.3 L244.7,401.0 L246.7,405.0 L245.3,408.3 L242.0,409.7 L240.0,409.7 L237.3,407.0 L236.0,402.3Z"/><path fill="#0868ac" d="M343.4,183.4 L344.6,180.1 L344.2,178.4 L346.3,176.7 L348.4,175.5 L350.5,175.1 L351.7,176.7 L351.3,179.2 L350.0,180.9 L347.5,182.6 L345.0,183.8Z"/><path fill="#0868ac" d="M353.0,167.5 L355.1,166.7 L357.1,166.7 L356.9,168.8 L358.8,169.6 L358.0,171.7 L357.1,173.4 L359.2,175.1 L361.3,177.1 L362.6,179.2 L363.8,180.9 L365.9,181.7 L366.1,183.4 L364.7,184.7 L362.6,185.5 L360.1,185.7 L357.6,186.1 L355.1,186.7 L353.0,187.7 L351.7,187.6 L353.8,185.5 L355.9,184.2 L353.4,183.8 L354.6,181.7 L353.8,180.1 L355.9,178.8 L355.5,177.1 L353.8,175.9 L352.5,174.6 L353.0,173.0 L351.7,171.7 L351.3,170.0 L352.1,168.4Z"/><path fill="#0868ac" d="M378.4,171.7 L380.1,170.0 L381.8,169.2 L383.0,169.0 L382.6,170.9 L381.8,172.5 L382.2,174.6 L381.4,175.9 L379.7,175.7 L378.6,174.0ZM384.3,173.8 L386.0,173.2 L387.0,174.2 L386.1,175.5 L384.7,175.1Z"/><path fill="#0868ac" d="M396.3,142.5 L398.4,142.5 L400.9,143.4 L403.0,145.5 L403.8,149.2 L401.8,150.5 L400.1,151.7 L399.7,153.8 L397.6,155.5 L395.5,157.6 L394.7,159.7 L395.5,161.3 L397.2,163.0 L396.7,165.1 L394.7,166.8 L393.8,169.7 L392.6,172.2 L390.1,173.9 L388.4,174.3 L387.1,172.6 L385.5,170.1 L383.8,167.6 L384.2,165.1 L385.5,162.2 L384.6,159.2 L384.6,155.9 L386.7,154.2 L387.1,151.7 L388.8,148.8 L390.9,145.9 L393.8,144.2Z"/><path fill="#0868ac" d="M370.9,183.8 L371.8,181.3 L373.8,179.6 L376.4,179.2 L376.4,180.9 L375.5,182.6 L374.9,184.4 L373.0,184.7Z"/><path fill="#0868ac" d="M368.4,185.5 L370.9,184.1 L373.0,184.8 L374.9,184.7 L375.5,186.3 L375.9,188.4 L374.3,188.0 L372.2,188.0 L370.1,186.7Z"/><path fill="#43a2ca" d="M376.4,179.2 L378.4,177.1 L380.5,176.3 L381.8,176.7 L384.3,177.1 L386.8,176.9 L389.3,177.4 L390.6,179.2 L391.0,181.7 L391.8,183.8 L390.6,185.1 L388.5,186.3 L387.6,187.6 L389.3,189.3 L390.6,190.9 L389.3,192.2 L389.3,193.4 L386.8,193.6 L383.9,194.1 L381.4,194.3 L379.3,193.8 L378.9,191.8 L376.8,190.1 L375.9,188.4 L375.5,186.3 L374.9,184.4 L375.5,182.6 L376.4,180.9Z"/><path fill="#0868ac" d="M387.6,187.6 L390.1,186.1 L393.5,185.5 L396.8,187.2 L400.2,188.8 L398.9,190.5 L396.0,191.3 L393.5,191.8 L390.6,190.9 L389.3,189.3Z"/><path fill="#0868ac" d="M389.3,192.2 L390.6,190.9 L393.5,191.8 L396.0,191.3 L397.2,193.0 L396.8,195.9 L394.7,197.2 L391.8,197.6 L389.3,196.8 L386.8,196.8 L383.9,196.4 L383.9,194.3 L386.8,193.6 L389.3,193.4Z"/><path fill="#0868ac" d="M391.8,197.6 L394.7,197.2 L395.6,198.4 L393.5,199.3 L391.8,198.9Z"/><path fill="#0868ac" d="M375.9,196.8 L377.2,195.1 L379.3,193.8 L381.4,194.3 L383.9,194.3 L383.9,196.4 L382.6,198.0 L380.1,198.4 L378.0,198.0 L376.8,198.4Z"/><path fill="#43a2ca" d="M354.2,191.8 L356.7,190.9 L359.2,191.1 L359.6,189.3 L362.6,188.8 L364.2,187.6 L366.7,186.3 L368.4,185.5 L370.1,186.7 L372.2,188.0 L374.3,188.0 L375.9,188.4 L376.8,190.1 L378.9,191.8 L379.3,193.8 L377.2,195.1 L375.9,196.8 L376.8,198.4 L377.2,200.0 L378.0,201.7 L378.4,203.8 L376.8,205.4 L375.1,205.7 L372.6,205.4 L370.1,206.3 L369.3,207.5 L366.7,206.9 L363.4,206.3 L360.1,205.0 L360.1,201.7 L360.1,198.3 L360.1,196.8 L358.8,194.7 L356.3,193.4Z"/><path fill="#0868ac" d="M376.8,198.4 L378.0,198.0 L380.1,198.4 L382.6,198.0 L383.9,196.4 L386.8,196.8 L389.3,196.8 L391.8,197.6 L391.8,198.9 L390.0,199.1 L388.9,200.2 L388.7,201.5 L389.7,202.9 L391.3,204.2 L392.4,206.3 L394.0,207.9 L396.1,209.0 L397.7,210.1 L399.9,211.4 L401.5,212.5 L402.3,213.3 L401.5,213.9 L400.4,213.2 L399.1,212.8 L398.3,213.5 L399.1,214.9 L399.6,215.9 L398.5,217.0 L397.7,218.3 L396.7,218.6 L397.2,217.3 L397.5,215.7 L396.1,214.1 L394.5,212.5 L392.9,211.1 L390.8,210.3 L388.7,209.0 L387.1,207.7 L385.5,206.1 L384.4,204.5 L383.1,203.1 L381.5,202.6 L379.9,203.4 L378.3,203.4 L377.2,201.8 L376.9,199.9ZM389.7,219.1 L391.3,218.6 L394.0,218.9 L396.1,218.5 L396.1,219.9 L395.9,222.3 L394.3,221.8 L392.4,221.0 L390.5,220.2ZM380.4,211.4 L382.0,211.1 L383.6,211.7 L383.9,213.5 L383.6,215.4 L382.3,216.2 L381.2,216.5 L380.9,214.3Z"/><path fill="#43a2ca" d="M380.9,207.1 L382.0,206.1 L382.8,206.3 L382.8,208.5 L382.3,209.8 L381.2,209.0Z"/><path fill="#0868ac" d="M343.8,205.4 L345.9,204.2 L350.0,204.4 L355.1,204.9 L360.1,205.0 L363.4,206.3 L366.7,206.9 L369.3,207.5 L368.8,209.2 L366.7,210.9 L364.2,212.5 L363.0,214.6 L362.6,217.1 L361.7,219.2 L359.2,220.9 L357.6,222.2 L354.6,222.2 L352.5,223.0 L351.3,224.2 L350.0,223.0 L347.5,221.3 L345.0,221.7 L343.4,220.9 L343.8,218.4 L342.9,216.3 L343.8,213.8 L344.6,210.9 L344.2,208.4Z"/><path fill="#ccebc5" d="M395.6,201.3 L397.7,200.5 L400.4,200.5 L402.3,201.0 L403.3,203.7 L402.0,206.3 L400.4,205.5 L398.3,203.7 L396.7,202.3Z"/><path fill="#ccebc5" d="M410.5,204.6 L413.4,203.8 L417.6,203.4 L420.9,203.8 L421.8,205.4 L420.9,207.5 L418.4,208.4 L415.9,208.8 L413.4,209.2 L411.3,208.4 L410.5,206.7Z"/><path fill="#ccebc5" d="M406.3,209.2 L408.0,207.9 L410.5,208.4 L411.3,210.0 L409.6,211.0 L407.1,211.3Z"/><path fill="#43a2ca" d="M406.3,213.8 L407.6,212.1 L410.1,211.3 L413.4,210.5 L416.7,210.0 L418.4,209.6 L418.8,210.9 L415.9,211.3 L413.8,212.1 L413.4,213.8 L412.6,215.1 L413.8,217.1 L414.7,219.2 L413.4,220.1 L413.0,222.6 L410.9,222.6 L409.6,220.5 L408.0,218.0 L406.7,215.9ZM413.8,225.5 L415.9,225.1 L418.4,225.5 L419.9,226.3 L418.0,226.9 L415.1,226.6Z"/><path fill="#a8ddb5" d="M417.2,192.6 L419.2,191.9 L421.7,193.8 L423.8,196.7 L422.2,198.4 L420.9,199.2 L420.1,195.9 L418.4,194.2Z"/><path fill="#a8ddb5" d="M411.3,142.9 L413.4,141.7 L416.7,140.8 L420.0,141.7 L424.2,142.5 L428.4,143.4 L431.7,144.6 L433.8,146.7 L433.0,148.4 L430.9,149.2 L428.4,149.6 L425.9,148.8 L423.4,147.9 L420.9,147.5 L420.5,148.4 L423.0,149.2 L424.6,151.3 L425.9,153.0 L428.4,153.8 L427.6,152.1 L428.8,151.3 L430.9,150.5 L432.6,150.9 L433.4,152.1 L433.8,150.0 L435.1,148.8 L437.2,148.4 L438.8,148.8 L439.3,147.1 L438.0,145.4 L436.7,143.8 L438.0,143.4 L440.1,144.2 L442.2,145.0 L441.8,146.7 L443.4,147.5 L445.1,146.3 L447.6,145.0 L450.5,143.8 L453.5,142.9 L454.7,143.8 L456.8,142.9 L459.3,143.4 L461.8,142.5 L463.5,143.4 L464.7,143.4 L463.9,141.7 L463.5,140.8 L466.8,141.3 L471.0,142.1 L476.0,142.9 L478.5,144.2 L476.8,140.9 L472.6,138.4 L473.5,135.0 L476.8,134.2 L481.0,135.9 L482.7,139.2 L485.2,142.6 L487.7,145.9 L489.9,147.6 L488.5,144.2 L486.0,140.1 L483.5,136.7 L482.7,134.7 L486.0,135.9 L490.2,133.4 L493.5,135.9 L495.2,133.4 L491.9,131.7 L495.2,130.0 L500.2,128.4 L506.9,127.5 L513.6,126.4 L520.3,125.4 L526.9,126.7 L533.6,128.4 L538.6,130.9 L543.6,131.7 L550.3,132.5 L556.7,131.7 L563.4,133.4 L570.0,135.1 L575.1,137.6 L580.1,136.7 L585.9,135.1 L589.3,135.9 L588.4,133.4 L585.9,132.6 L590.1,132.6 L592.6,135.1 L600.1,135.1 L608.5,136.7 L616.8,138.4 L623.5,138.7 L628.5,140.9 L635.2,140.9 L641.0,141.4 L646.9,142.6 L646.1,140.4 L650.2,140.1 L656.9,140.4 L663.6,141.7 L668.6,145.1 L674.5,150.1 L678.6,152.6 L675.3,153.1 L679.5,154.8 L685.3,157.1 L682.0,158.4 L678.6,159.3 L675.3,161.8 L670.3,163.1 L665.3,163.8 L664.4,167.6 L666.9,171.0 L672.0,174.3 L674.5,177.7 L675.3,181.8 L675.0,185.2 L671.1,182.7 L666.9,179.3 L662.8,176.0 L660.3,172.6 L658.6,168.5 L660.3,165.1 L661.1,161.0 L658.6,158.4 L656.9,160.1 L653.6,161.8 L649.4,161.8 L648.6,164.3 L650.2,166.0 L645.2,166.0 L638.5,166.0 L631.9,166.0 L627.7,166.8 L626.0,170.1 L624.3,175.2 L628.5,176.8 L633.5,177.7 L638.5,179.3 L641.9,182.7 L645.2,188.5 L646.9,195.2 L646.1,200.2 L643.6,204.4 L641.0,206.1 L638.5,205.6 L636.1,205.9 L635.3,201.7 L637.8,199.2 L636.9,195.0 L635.3,191.7 L630.3,192.5 L625.2,190.4 L620.2,188.4 L615.2,185.0 L611.0,181.7 L606.9,180.0 L602.7,179.7 L599.4,180.8 L599.9,183.4 L600.2,187.5 L597.2,190.0 L594.3,188.0 L590.2,188.7 L583.5,189.2 L576.8,188.4 L570.1,187.0 L565.1,185.0 L560.1,184.2 L558.4,187.5 L553.4,187.0 L546.7,188.4 L540.9,190.9 L539.2,190.9 L536.7,193.4 L534.2,196.7 L532.5,200.1 L529.2,202.6 L530.3,206.9 L526.9,206.0 L520.3,206.9 L513.6,208.6 L506.9,211.1 L503.6,210.2 L498.5,207.7 L493.5,206.0 L488.5,203.5 L483.5,200.2 L480.2,200.2 L479.3,207.7 L476.0,208.6 L471.5,211.1 L473.5,208.5 L471.2,206.2 L468.8,203.8 L467.4,202.1 L468.2,200.6 L470.6,199.7 L472.1,198.2 L471.2,196.5 L468.8,195.9 L465.9,196.5 L462.9,198.2 L460.3,201.2 L461.2,203.2 L462.9,206.2 L464.7,209.1 L467.1,211.5 L469.1,212.6 L468.8,214.4 L467.6,216.2 L468.2,218.5 L469.1,220.0 L467.6,218.8 L465.3,216.8 L462.9,215.9 L460.6,215.6 L459.4,214.7 L460.3,214.1 L459.4,212.6 L457.6,210.9 L455.9,211.2 L455.3,210.9 L452.4,210.0 L450.3,209.4 L450.0,207.9 L448.2,206.2 L445.3,204.1 L442.4,202.4 L439.4,200.3 L440.0,196.8 L441.2,195.9 L442.6,195.3 L441.5,193.8 L442.6,192.6 L443.2,190.9 L441.8,189.4 L438.5,187.7 L435.5,186.8 L433.2,185.6 L430.8,183.9 L429.6,182.4 L427.3,182.1 L425.8,182.4 L424.1,182.7 L423.8,183.9 L422.6,184.5 L419.1,183.9 L415.5,183.6 L412.0,183.4 L409.6,183.3 L409.4,181.5 L409.9,180.1 L409.4,178.7 L407.9,178.3 L406.7,177.4 L405.8,177.1 L403.2,176.9 L401.1,176.5 L401.7,175.9 L402.9,174.8 L403.5,173.3 L403.2,172.1 L403.5,170.4 L404.6,169.2 L406.1,169.5 L407.0,170.1 L408.2,169.8 L409.1,168.6 L408.2,168.3 L407.0,167.4 L406.1,166.2 L406.4,165.5 L408.5,165.1 L411.4,164.8 L413.8,164.5 L415.8,163.6 L415.2,161.8 L416.7,159.8 L418.5,158.0 L415.4,163.4 L415.9,161.7 L417.5,159.2 L419.2,156.7 L416.7,154.2 L415.9,151.3 L414.2,147.5 L412.5,145.0Z"/><path fill="#a8ddb5" d="M446.8,136.7 L447.6,132.5 L450.9,129.2 L456.8,127.5 L463.5,125.9 L467.1,126.4 L466.0,128.0 L460.1,129.2 L455.1,130.9 L452.6,133.4 L454.3,136.7 L456.8,138.4 L452.6,138.4 L449.3,138.1ZM493.5,119.2 L498.5,118.0 L504.4,119.7 L508.6,121.7 L505.2,122.5 L500.2,121.7 L495.2,120.8ZM510.2,121.7 L514.4,121.3 L517.8,123.0 L514.4,123.7 L511.1,123.4ZM426.7,119.2 L431.7,118.3 L435.9,119.0 L431.7,120.0ZM574.2,127.5 L579.2,126.7 L585.9,128.4 L583.4,130.0 L577.6,129.7 L574.7,128.7ZM589.3,128.7 L593.4,129.2 L596.8,130.0 L593.4,130.4 L589.8,129.7ZM655.2,137.1 L657.8,138.1 L656.9,138.7ZM639.4,177.7 L641.0,179.3 L643.6,183.5 L646.9,187.7 L651.1,191.9 L654.4,196.0 L656.9,197.7 L655.2,195.2 L651.9,191.0 L654.4,190.2 L650.2,187.7 L646.9,183.5 L643.6,180.2 L641.0,177.7Z"/><path fill="#0868ac" d="M539.2,190.9 L542.6,191.7 L546.7,194.2 L549.2,197.6 L552.6,200.1 L557.6,201.7 L561.8,203.4 L565.1,205.9 L571.8,207.1 L578.5,207.6 L584.3,208.4 L588.5,206.7 L593.5,205.1 L594.3,201.7 L598.5,200.1 L603.5,197.6 L606.9,195.9 L604.4,194.2 L600.2,193.7 L597.7,192.5 L597.2,190.0 L600.2,187.5 L599.9,183.4 L599.4,180.8 L602.7,179.7 L606.9,180.0 L611.0,181.7 L615.2,185.0 L620.2,188.4 L625.2,190.4 L630.3,192.5 L635.3,191.7 L636.9,195.0 L637.8,199.2 L635.3,201.7 L636.1,205.9 L637.9,208.0 L637.1,210.1 L637.5,212.2 L636.0,213.4 L635.4,215.1 L636.7,216.8 L639.2,218.8 L641.7,221.4 L643.4,223.9 L643.8,225.9 L642.5,227.6 L640.0,228.5 L638.4,227.2 L637.5,225.1 L636.3,223.4 L635.0,221.8 L635.4,220.1 L633.8,219.3 L631.7,218.8 L630.0,216.8 L629.2,213.4 L628.6,210.9 L626.1,214.3 L622.7,215.1 L621.1,212.6 L618.6,213.8 L616.1,215.9 L617.7,218.4 L621.9,220.1 L626.1,219.3 L626.9,220.9 L623.6,223.4 L621.9,226.0 L624.4,229.3 L628.6,232.6 L631.9,236.0 L633.6,241.0 L632.8,245.2 L630.3,249.3 L628.6,253.5 L626.1,256.9 L621.9,259.4 L617.7,261.0 L613.6,261.9 L611.0,262.7 L606.9,261.9 L604.4,260.2 L601.9,258.5 L598.5,257.7 L595.2,258.5 L592.7,261.0 L591.0,260.2 L588.5,258.5 L586.0,256.0 L583.5,254.4 L582.6,251.0 L583.5,247.7 L581.8,245.2 L579.3,243.5 L576.8,242.2 L573.5,242.7 L570.1,244.3 L567.6,245.2 L564.3,244.3 L560.9,244.8 L559.3,243.5 L555.9,242.7 L550.1,241.0 L545.1,239.3 L541.7,239.3 L538.4,236.8 L535.9,234.3 L535.0,231.0 L532.5,228.5 L529.2,225.1 L525.8,221.8 L523.3,218.8 L520.8,215.9 L522.5,213.4 L525.8,211.8 L529.2,209.2 L530.9,205.9 L529.2,202.6 L532.5,200.1 L534.2,196.7 L536.7,193.4ZM634.4,252.7 L636.1,251.8 L636.6,255.2 L635.6,259.4 L634.1,257.7ZM609.3,267.2 L610.9,265.9 L613.9,265.9 L614.9,267.2 L614.3,269.2 L612.2,270.5 L610.1,269.7ZM610.1,260.9 L611.8,263.0 L612.2,265.1 L613.5,265.1 L613.9,262.6 L615.5,260.9Z"/><path fill="#7bccc4" d="M655.5,199.6 L657.6,200.5 L660.1,202.1 L663.0,203.0 L664.7,202.1 L666.3,204.2 L666.8,205.5 L664.7,205.9 L664.3,208.0 L662.2,207.6 L660.9,208.0 L659.7,209.7 L658.0,208.8 L656.3,206.7 L656.7,204.6 L658.0,203.8 L656.7,201.7ZM659.7,210.5 L661.7,211.3 L663.8,213.0 L665.5,215.1 L665.9,217.5 L667.2,220.0 L668.0,223.4 L667.6,225.9 L665.9,227.1 L663.4,227.5 L661.7,228.8 L660.5,230.5 L659.2,230.9 L658.0,229.2 L656.7,230.5 L655.1,229.6 L654.2,231.3 L652.6,231.3 L652.4,233.8 L652.6,236.3 L650.9,236.9 L649.6,235.1 L648.8,233.0 L646.3,231.3 L648.0,229.6 L650.1,227.5 L650.9,225.9 L653.4,225.0 L655.9,224.9 L657.6,223.4 L657.2,220.8 L658.8,221.7 L660.1,220.0 L661.3,217.9 L660.5,215.1 L659.2,212.6Z"/><path fill="#7bccc4" d="M541.7,239.3 L545.1,239.3 L550.1,241.0 L555.9,242.7 L559.3,243.5 L560.1,247.2 L555.9,247.7 L550.1,246.0 L545.1,243.8 L541.4,241.8Z"/><path fill="#a8ddb5" d="M580.9,245.0 L583.4,248.4 L584.2,253.4 L587.6,256.7 L591.7,260.9 L590.9,263.4 L587.6,265.9 L585.1,268.4 L584.7,271.7 L586.7,274.2 L588.4,278.4 L589.2,282.6 L590.1,286.8 L590.9,290.1 L589.7,291.8 L588.4,288.4 L587.6,284.3 L586.7,280.1 L585.1,275.9 L582.6,273.4 L580.9,275.9 L577.5,275.9 L576.7,271.7 L575.0,267.6 L572.5,263.4 L573.0,259.2 L575.0,255.0 L576.7,250.9 L578.4,247.5Z"/><path fill="#ccebc5" d="M585.1,268.4 L587.6,265.9 L590.9,263.4 L592.6,267.6 L593.4,270.9 L597.6,270.9 L600.9,271.7 L603.4,275.1 L604.3,279.3 L602.6,280.9 L598.4,280.9 L597.6,284.3 L594.2,285.1 L591.7,282.6 L590.9,286.8 L590.1,290.1 L590.9,292.6 L594.2,296.8 L597.6,301.0 L598.4,303.1 L595.9,301.8 L592.6,298.5 L590.1,296.0 L588.7,292.6 L589.7,291.8 L590.9,290.1 L590.1,286.8 L589.2,282.6 L588.4,278.4 L586.7,274.2 L584.7,271.7Z"/><path fill="#ccebc5" d="M591.7,260.9 L594.2,259.7 L597.6,261.7 L600.1,265.1 L602.6,267.6 L605.1,270.9 L607.6,275.1 L608.4,279.3 L606.8,280.9 L604.3,279.3 L603.4,275.1 L600.9,271.7 L597.6,270.9 L593.4,270.9 L592.6,267.6 L590.9,263.4Z"/><path fill="#ccebc5" d="M419.7,214.6 L420.9,213.0 L424.3,211.7 L428.4,210.5 L432.6,209.2 L436.8,208.8 L441.0,210.0 L445.2,210.5 L449.3,209.6 L450.3,209.4 L452.4,210.0 L455.3,210.9 L456.2,211.5 L456.8,212.6 L457.9,213.8 L459.4,214.7 L459.4,216.2 L460.0,217.9 L459.2,220.1 L457.6,220.1 L452.6,220.9 L446.7,222.1 L441.7,223.4 L441.8,222.6 L440.1,223.0 L438.5,221.7 L435.1,223.0 L431.8,223.4 L428.4,223.0 L425.9,221.7 L423.4,220.1 L421.3,218.4 L420.1,216.3ZM418.8,209.2 L420.9,208.4 L422.6,209.6 L421.8,210.9 L419.7,211.3Z"/><path fill="#ccebc5" d="M441.7,223.4 L446.7,222.1 L452.6,220.9 L450.9,226.8 L449.2,231.8 L445.9,233.4 L442.5,232.6 L441.7,228.4Z"/><path fill="#ccebc5" d="M452.6,220.9 L457.6,220.1 L459.2,220.1 L460.9,224.3 L462.6,228.4 L465.1,232.6 L467.6,236.8 L469.3,240.1 L466.8,241.0 L462.6,240.1 L457.6,236.8 L452.6,233.4 L449.2,231.8 L450.9,226.8Z"/><path fill="#ccebc5" d="M440.0,228.8 L441.7,228.4 L442.5,232.6 L441.7,235.1 L440.4,240.1 L439.2,241.0 L439.5,235.1Z"/><path fill="#ccebc5" d="M460.0,217.9 L459.4,216.2 L459.4,214.7 L460.6,215.6 L462.9,215.9 L465.3,216.8 L467.6,218.8 L469.1,220.0 L470.6,219.7 L473.5,220.3 L476.5,220.9 L478.8,220.3 L479.3,220.1 L485.1,219.2 L490.1,220.9 L496.0,225.9 L497.7,230.9 L496.8,235.1 L498.5,240.1 L501.8,243.5 L503.5,247.6 L502.7,251.8 L496.8,251.0 L491.0,249.3 L487.6,248.5 L485.1,249.3 L480.1,246.8 L475.1,242.6 L471.8,239.3 L469.3,240.1 L467.6,236.8 L465.1,232.6 L462.6,228.4 L460.9,224.3 L459.2,220.1Z"/><path fill="#ccebc5" d="M496.0,225.9 L500.2,224.3 L505.2,222.6 L510.2,221.4 L513.5,219.2 L516.0,218.4 L517.7,220.9 L521.9,220.4 L521.0,222.1 L516.9,224.3 L517.7,228.4 L515.2,232.6 L511.9,235.1 L509.4,238.5 L505.2,240.1 L500.2,241.0 L498.5,240.1 L496.8,235.1 L497.7,230.9Z"/><path fill="#ccebc5" d="M488.5,253.4 L491.8,255.1 L495.2,257.6 L497.7,260.9 L496.0,264.2 L493.5,267.6 L491.0,270.9 L487.6,273.4 L484.3,274.3 L481.8,270.9 L483.5,267.6 L487.6,265.9 L488.5,260.9 L488.1,256.7Z"/><path fill="#ccebc5" d="M350.0,225.0 L354.1,225.6 L358.2,226.2 L359.4,229.1 L360.6,232.6 L358.8,234.4 L355.3,236.2 L351.8,238.5 L348.2,240.3 L345.3,242.6 L343.5,245.8 L334.1,246.2 L337.6,243.8 L341.2,241.5 L341.8,236.2 L344.1,232.6 L346.5,229.7 L348.8,226.8Z"/><path fill="#f0f9e8" d="M418.6,235.9 L423.6,236.7 L430.3,236.4 L436.9,235.9 L439.4,237.6 L441.1,240.1 L440.3,244.2 L442.8,250.9 L445.3,256.8 L446.1,260.1 L419.6,260.1 L419.6,248.4Z"/><path fill="#f0f9e8" d="M419.6,260.1 L446.1,260.1 L448.6,266.8 L449.5,271.8 L447.0,274.3 L445.3,279.3 L442.8,283.5 L440.3,286.8 L439.4,290.2 L439.7,293.2 L440.3,297.4 L445.0,302.6 L443.2,304.4 L439.1,307.9 L433.2,307.9 L428.5,305.6 L423.8,301.5 L419.1,295.0 L418.6,291.8 L416.1,288.5 L414.4,283.5 L415.2,278.5 L417.2,275.1 L417.2,265.1 L419.6,265.1Z"/><path fill="#ccebc5" d="M336.8,300.0 L337.8,298.2 L339.2,296.8 L340.5,296.2 L341.2,297.5 L342.2,298.5 L343.5,298.2 L343.8,300.5 L344.5,302.0 L345.5,303.0 L345.5,306.0 L344.5,306.5 L342.5,305.5 L340.0,303.5 L338.0,301.8Z"/><path fill="#a8ddb5" d="M475.6,349.7 L477.9,353.2 L477.9,357.9 L475.6,362.6 L473.8,368.5 L471.5,375.6 L469.1,381.5 L465.0,384.4 L461.5,382.6 L460.3,377.4 L462.6,372.1 L463.2,366.2 L463.8,360.9 L469.7,358.5 L472.6,354.4Z"/></g><g fill="none" stroke="#333" stroke-opacity="0.55" stroke-width="0.65" stroke-linejoin="round"><path d="M158.0,280.1 L160.9,281.3 L162.1,283.0"/><path d="M200.9,328.7 L197.1,329.7 L194.2,332.6 L193.4,336.7 L194.7,340.9 L198.1,343.4 L200.9,344.2 L203.8,345.4 L205.1,345.9"/><path d="M344.6,208.4 L348.8,208.8 L349.6,210.5 L348.4,212.5 L347.9,215.9 L347.5,219.2 L347.5,221.3"/><path d="M413.8,164.5 L414.6,166.8 L414.9,168.9"/><path d="M409.1,168.6 L411.4,168.6 L413.5,168.9 L414.9,168.9"/><path d="M414.9,168.9 L415.5,170.6 L416.7,172.1"/><path d="M403.5,172.1 L406.1,172.1 L409.1,171.8 L411.4,172.4 L413.5,173.3 L414.6,173.6 L416.7,172.1"/><path d="M414.6,173.6 L413.5,175.1 L412.3,176.8 L410.8,178.3 L409.4,178.7"/><path d="M402.9,174.8 L404.6,175.1 L406.1,175.6 L406.7,177.4"/><path d="M416.7,172.1 L419.1,173.0 L421.4,173.6 L422.6,175.1 L423.2,176.8 L424.9,178.3 L426.7,179.8 L425.8,180.9 L425.8,182.4"/><path d="M463.2,197.9 L461.8,195.3 L460.0,193.8 L457.9,192.1 L457.1,189.7 L457.4,187.6 L459.4,186.8 L461.2,185.0 L460.1,185.2 L463.5,183.5 L468.5,183.8 L475.2,185.2 L481.8,185.5 L484.3,184.3 L481.8,181.0 L482.7,177.6 L488.5,176.0 L495.2,174.3 L500.2,176.0 L505.2,178.5 L510.2,177.1 L515.2,180.2 L520.3,183.5 L526.9,185.2 L533.6,187.7 L537.8,190.2 L539.5,191.0"/><path d="M445.3,204.1 L449.4,205.3 L453.5,206.2 L457.1,207.4 L459.4,208.5 L461.8,209.7 L463.5,210.6 L465.3,209.7"/><path d="M455.9,211.2 L457.6,209.7 L459.4,209.1 L460.6,210.9 L461.8,212.6 L460.3,214.1"/><path d="M628.6,210.9 L631.1,209.2 L633.6,207.6 L636.1,205.9"/><path d="M419.1,295.0 L421.5,290.9 L425.6,292.6 L429.7,293.2 L433.8,290.9 L436.8,290.3 L436.8,286.8 L439.1,286.2 L439.7,290.3"/></g><g fill="#fff" stroke="#b9cfc9" stroke-width="0.5"><path d="M460.3,201.2 L462.9,198.2 L465.9,196.5 L468.8,195.9 L471.2,196.5 L472.1,198.2 L470.6,199.7 L468.2,200.6 L467.4,202.1 L468.8,203.8 L471.2,206.2 L473.5,208.5 L475.3,210.3 L477.1,212.6 L478.8,215.6 L480.0,218.5 L478.8,220.3 L476.5,220.9 L473.5,220.3 L470.6,219.7 L469.1,220.0 L468.2,218.5 L467.6,216.2 L468.8,214.4 L469.1,212.6 L467.1,211.5 L464.7,209.1 L462.9,206.2 L461.2,203.2Z"/></g>
</g>
<g id="legend">
<text class="leg" x="239.5" y="510" text-anchor="middle">No data</text>
<line x1="239.5" y1="513" x2="239.5" y2="517" stroke="#999" stroke-width="0.6"/>
<rect x="215.5" y="516.9" width="47.7" height="11.2" fill="url(#hatch)" stroke="#c4c4c4" stroke-width="0.8"/>
<path d="M283,522.5 L288.3,516.9 L341.5,516.9 L341.5,528.1 L288.3,528.1 Z" fill="#f0f9e8" stroke="#c4c4c4" stroke-width="0.7"/>
<rect x="341.5" y="516.9" width="58.5" height="11.2" stroke="#c4c4c4" stroke-width="0.4" fill="#ccebc5"/>
<rect x="400" y="516.9" width="58.5" height="11.2" stroke="#c4c4c4" stroke-width="0.4" fill="#a8ddb5"/>
<rect x="458.5" y="516.9" width="58.5" height="11.2" stroke="#c4c4c4" stroke-width="0.4" fill="#7bccc4"/>
<rect x="517" y="516.9" width="58.5" height="11.2" stroke="#c4c4c4" stroke-width="0.4" fill="#43a2ca"/>
<rect x="575.5" y="516.9" width="58.5" height="11.2" stroke="#c4c4c4" stroke-width="0.4" fill="#0868ac"/>
<g stroke="#666" stroke-opacity="0.8" stroke-width="0.6">
<line x1="341.5" y1="514" x2="341.5" y2="528.1"/><line x1="400" y1="514" x2="400" y2="528.1"/><line x1="458.5" y1="514" x2="458.5" y2="528.1"/><line x1="517" y1="514" x2="517" y2="528.1"/><line x1="575.5" y1="514" x2="575.5" y2="528.1"/><line x1="634" y1="514" x2="634" y2="528.1"/>
</g>
<g class="leg" text-anchor="middle">
<text x="341.5" y="510">50%</text><text x="400" y="510">70%</text><text x="458.5" y="510">80%</text><text x="517" y="510">90%</text><text x="575.5" y="510">95%</text><text x="634" y="510">100%</text>
</g>
</g>
<g id="footer">
<text class="foot" x="16" y="561" textLength="156.5" lengthAdjust="spacingAndGlyphs"><tspan font-weight="bold">Data source:</tspan> V-Dem (2026)</text>
<text class="foot" x="16" y="581" textLength="330.5" lengthAdjust="spacingAndGlyphs"><tspan font-weight="bold">Note:</tspan> Values are missing if the country is not independent.</text>
<text class="foot" x="582.5" y="561" textLength="248" lengthAdjust="spacingAndGlyphs">OurWorldinData.org/state-capacity | CC BY</text>
</g>
</svg>
</body></html>
